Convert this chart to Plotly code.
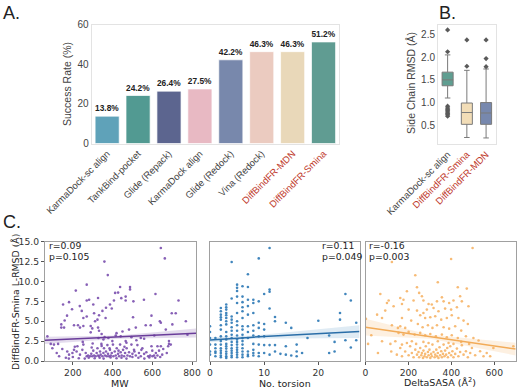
import plotly.graph_objects as go

W, H = 517, 391

# ---------------- Panel A data ----------------
methods = ["KarmaDock-sc align", "TankBind-pocket", "Glide (Repack)", "KarmaDock align",
           "Glide (Redock)", "Vina (Redock)", "DiffBindFR-MDN", "DiffBindFR-Smina"]
success = [13.8, 24.2, 26.4, 27.5, 42.2, 46.3, 46.3, 51.2]
bar_colors = ["#5fa2b9", "#529a92", "#5c658f", "#e8b9c3", "#7888ac", "#ebcbc0", "#e9d8b9", "#609c92"]
highlight = ["DiffBindFR-MDN", "DiffBindFR-Smina"]

# ---------------- Panel B data ----------------
box_names = ["KarmaDock-sc align", "DiffBindFR-Smina", "DiffBindFR-MDN"]
box_q1 = [1.37, 0.52, 0.52]
box_med = [1.50, 0.78, 0.77]
box_q3 = [1.67, 0.99, 1.00]
box_lo = [1.10, 0.23, 0.22]
box_hi = [2.05, 1.71, 1.74]
box_colors = ["#5f9e91", "#f2ddb7", "#7788ae"]
out_group = ["KarmaDock-sc align"] * 10 + ["DiffBindFR-Smina"] * 2 + ["DiffBindFR-MDN"] * 3
out_vals = [2.60, 2.12, 0.92, 0.88, 0.85, 0.82, 0.79, 0.76, 0.73, 0.70,
            1.80, 2.38,
            1.79, 1.97, 2.38]

# ---------------- Panel C data ----------------
mw = [643, 663, 359, 376, 270, 215, 488, 488, 438, 413, 428, 616, 327, 270, 282, 303, 407, 444, 466, 466,
      505, 558, 732, 151, 181, 196, 235, 245, 349, 367, 387, 396, 307, 253, 270, 171, 159, 332, 365, 312,
      324, 503, 596, 638, 698, 718, 769,
      142, 156, 142, 206, 226, 236, 253, 290, 298, 327, 332, 450, 483, 517, 567, 592, 643, 668, 701, 777,
      72, 416, 441, 495, 542, 559, 329, 354, 379, 399, 684, 466,
      89, 105, 126, 119, 147, 172, 181, 198, 206, 219, 223, 236, 248, 253, 265, 270, 277, 287, 293, 298,
      303, 307, 315, 320, 324, 327, 332, 337, 340, 344, 349, 354, 357, 362, 367, 371, 374, 377, 382, 387,
      391, 396, 402, 404, 411, 416, 421, 428, 433, 438, 441, 446, 453, 458, 463, 471, 475, 483, 488, 495,
      500, 508, 517, 525, 533, 542, 550, 559, 579, 589, 596, 601, 609, 618, 626, 634, 643, 626, 673, 680,
      684, 693, 97, 131,
      290, 345, 360, 420, 300, 250, 210, 470, 520, 610, 280, 310, 335, 355, 390, 420, 445, 470, 500, 530,
      560, 585, 615, 640, 260, 230, 200, 180, 165, 295, 345, 385, 430, 460, 510, 545, 570, 600, 650, 655]
mw_rmsd = [14.2, 12.9, 12.5, 10.8, 9.6, 8.85, 9.3, 9.0, 9.3, 8.56, 8.6, 8.43, 7.93, 7.6, 7.7, 7.1, 7.6, 7.9, 7.6, 8.1,
           7.5, 7.7, 7.6, 7.1, 7.4, 6.5, 6.9, 6.3, 6.3, 6.7, 7.1, 6.6, 6.0, 5.4, 5.6, 5.7, 5.1, 5.75, 5.4, 5.0,
           5.2, 5.5, 5.7, 5.0, 6.0, 6.0, 5.0,
           4.2, 4.2, 4.6, 4.5, 4.5, 4.2, 4.4, 4.4, 4.1, 4.2, 3.8, 3.7, 3.95, 4.2, 4.5, 4.5, 4.8, 3.95, 4.6, 3.3,
           3.1, 3.2, 3.1, 3.0, 2.9, 2.8, 2.9, 2.7, 2.9, 2.5, 2.5, 2.5,
           2.15, 2.06, 2.15, 1.0, 1.5, 1.2, 0.8, 1.0, 1.4, 1.2, 1.85, 0.8, 1.4, 2.06, 1.0, 0.6, 0.7, 0.6, 0.9, 0.6,
           1.3, 0.7, 0.6, 1.0, 1.6, 0.7, 0.6, 1.2, 0.8, 2.15, 0.6, 1.0, 1.6, 0.7, 1.2, 0.6, 2.0, 0.9, 0.6, 1.4,
           0.7, 1.0, 2.06, 0.6, 1.2, 0.7, 1.6, 0.9, 0.6, 2.06, 1.1, 0.7, 1.4, 0.6, 1.0, 1.6, 0.7, 1.1, 0.6, 2.06,
           0.9, 1.4, 0.7, 2.0, 1.0, 0.6, 1.6, 0.9, 0.6, 0.7, 1.85, 0.6, 0.7, 1.0, 0.7, 1.3, 1.85, 1.85, 1.0, 1.85,
           2.15, 2.06, 1.6, 0.6,
           3.6, 3.4, 3.0, 3.5, 2.2, 2.4, 1.8, 2.3, 2.6, 3.2, 0.4, 0.35, 0.4, 0.3, 0.45, 0.35, 0.4, 0.3, 0.5, 0.4,
           0.3, 0.45, 0.4, 0.5, 0.3, 0.35, 0.5, 0.3, 0.4, 1.7, 1.9, 1.6, 1.3, 1.8, 1.2, 1.4, 1.1, 1.3, 0.8, 1.5]

tors = [0, 0, 0, 0, 0, 0,
        1, 1, 1, 1, 1, 1,
        2, 2, 2, 2, 2, 2, 2, 2, 2, 2, 2, 2, 2, 2, 2,
        3, 3, 3, 3, 3, 3, 3, 3, 3, 3, 3, 3, 3, 3, 3, 3, 3, 3,
        4, 4, 4, 4, 4, 4, 4, 4, 4, 4, 4, 4, 4, 4, 4, 4,
        5, 5, 5, 5, 5, 5, 5, 5, 5, 5, 5, 5, 5, 5, 5, 5, 5, 5,
        6, 6, 6, 6, 6, 6, 6, 6, 6, 6, 6, 6, 6, 6, 6, 6,
        7, 7, 7, 7, 7, 7, 7, 7, 7, 7, 7,
        8, 8, 8, 8, 8, 8, 8, 8, 8, 8,
        9, 9, 9, 9, 9, 9, 9, 9,
        10, 10, 10, 10, 10, 10,
        11, 11, 11, 11, 11, 11,
        12, 12, 12, 12,
        13, 14, 14, 14, 15, 15, 16, 16, 16, 17, 18, 20, 22, 22, 23, 23, 24, 24, 25, 25, 26, 26, 27, 27]
tors_rmsd = [4.37, 3.65, 2.9, 2.06, 1.2, 0.8,
             2.9, 2.06, 1.6, 1.2, 1.0, 0.6,
             6.67, 6.25, 5.83, 5.5, 5.2, 4.5, 3.95, 3.1, 2.5, 2.06, 1.6, 1.3, 1.0, 0.7, 0.47,
             7.1, 6.76, 6.46, 6.04, 5.75, 5.4, 5.0, 4.6, 3.65, 3.1, 2.7, 2.15, 1.85, 1.56, 1.2, 0.9, 0.6, 0.39,
             12.45, 7.85, 5.6, 5.2, 4.8, 4.24, 3.8, 3.3, 2.9, 2.4, 2.0, 1.6, 1.3, 1.0, 0.7, 0.47,
             9.6, 9.2, 8.8, 8.1, 7.3, 6.04, 5.0, 4.5, 3.8, 3.2, 2.7, 2.4, 2.06, 1.7, 1.4, 1.1, 0.8, 0.47,
             9.4, 8.1, 7.4, 6.76, 6.25, 5.4, 4.37, 3.95, 3.3, 2.9, 2.5, 2.06, 1.6, 1.2, 0.8, 0.47,
             10.9, 9.3, 7.7, 6.9, 5.83, 4.37, 3.65, 2.9, 1.2, 0.8, 0.6,
             7.7, 7.3, 6.04, 4.5, 3.8, 3.2, 2.15, 1.4, 1.0, 0.7,
             12.9, 7.5, 4.8, 4.16, 3.1, 2.06, 1.0, 0.6,
             8.43, 4.66, 3.95, 3.1, 2.0, 1.0,
             14.2, 8.98, 8.7, 6.6, 2.0, 0.8,
             5.54, 5.0, 2.0, 1.2,
             0.9, 4.8, 1.85, 0.8, 4.16, 0.7, 2.06, 1.2, 0.6, 1.0, 2.9, 5.07, 3.2, 1.0, 2.4, 1.2, 6.04, 5.2, 8.43, 2.6,
             7.6, 1.7, 4.8, 2.6]

sasa = [499, 399, 123, 232, 337, 430, 472, 240, 356, 364, 193, 69, 108, 162, 177, 224, 270, 100, 131, 250,
        263, 294, 309, 333, 390, 410, 441, 449, 480, 92, 170, 201, 240, 270, 286, 317, 340, 371, 399, 426,
        54, 77, 170, 213, 255, 278, 302, 325, 353, 379, 402, 433, 457, 477, 2, 27, 12,
        123, 151, 162, 185, 244, 266, 291, 312, 333, 364, 390, 418, 446, 154, 177, 201, 229, 255, 278, 302,
        328, 356, 379, 402, 430, 468, 503, 527, 596, 689, 77, 116, 139,
        58, 120, 146, 162, 170, 185, 201, 208, 216, 224, 232, 240, 247, 250, 255, 260, 263, 268, 270, 275,
        278, 281, 286, 291, 294, 298, 302, 306, 309, 312, 317, 322, 325, 330, 333, 337, 340, 345, 348, 353,
        356, 361, 364, 368, 371, 376, 381, 384, 390, 395, 399, 405, 410, 418, 426, 433, 441, 449, 457, 468,
        477, 488, 496, 511, 534, 550, 565, 581,
        170, 193, 216, 236, 270, 294, 337, 387, 410, 446, 483]
sasa_rmsd = [14.2, 12.83, 12.45, 10.78, 9.9, 9.27, 9.1, 9.27, 8.0, 7.5, 8.77, 8.43, 7.6, 7.93, 7.7, 7.6, 7.6, 7.3, 6.88, 8.56,
             8.14, 7.17, 7.1, 7.5, 7.3, 7.6, 8.14, 7.5, 6.88, 6.34, 7.17, 6.46, 6.34, 6.04, 6.46, 6.67, 6.25, 6.59, 6.46, 6.76,
             5.83, 5.4, 5.4, 5.08, 5.75, 5.4, 5.5, 5.63, 5.2, 5.4, 5.75, 5.4, 5.08, 4.66, 5.3, 3.24, 2.15,
             4.5, 4.16, 4.37, 4.16, 4.66, 4.24, 4.5, 4.16, 4.5, 4.24, 4.07, 4.37, 3.82, 3.53, 3.32, 3.66, 3.32, 3.53, 3.24, 3.4,
             3.11, 3.32, 2.98, 3.24, 2.9, 3.11, 2.9, 2.57, 1.64, 1.85, 2.48, 2.15, 2.48,
             1.0, 1.2, 0.8, 1.64, 0.6, 1.2, 0.72, 1.85, 1.0, 0.47, 1.43, 0.8, 1.14, 0.47, 1.64, 0.72, 1.0, 0.39, 1.31, 0.6,
             0.89, 1.85, 0.47, 1.14, 0.72, 1.43, 0.39, 0.89, 0.6, 2.06, 1.14, 0.47, 0.8, 1.43, 0.6, 1.0, 0.39, 1.73, 0.72, 1.22,
             0.47, 0.89, 2.06, 0.6, 1.31, 0.8, 1.64, 0.47, 1.0, 1.85, 0.72, 1.22, 0.47, 0.89, 1.56, 0.6, 1.14, 1.98, 0.8, 1.22,
             0.47, 1.0, 1.64, 0.72, 1.22, 0.6, 1.0, 0.6,
             2.06, 2.27, 2.48, 2.15, 2.4, 2.27, 2.48, 2.27, 2.15, 2.4, 2.15]

# regression lines and 95% CI (x, fit, lower, upper)
mw_fit_x, mw_fit_y, mw_fit_lo, mw_fit_hi = [60, 430, 820], [2.6, 3.0, 3.5], [2.15, 2.8, 2.95], [3.05, 3.2, 4.1]
tors_fit_x, tors_fit_y, tors_fit_lo, tors_fit_hi = [0, 8, 27.6], [2.65, 3.0, 3.7], [2.35, 2.8, 2.9], [2.95, 3.2, 4.5]
sasa_fit_x, sasa_fit_y, sasa_fit_lo, sasa_fit_hi = [0, 300, 700], [4.24, 3.05, 1.5], [3.2, 2.8, 0.7], [5.3, 3.3, 2.3]
stats_text = [("r=0.09", "p=0.105"), ("r=0.11", "p=0.049"), ("r=-0.16", "p=0.003")]

# ---------------- figure ----------------
fig = go.Figure()

# Panel A bars
fig.add_trace(go.Bar(x=methods, y=success, marker=dict(color=bar_colors, line=dict(color="rgba(255,255,255,0.7)", width=1)),
                     texttemplate="<b>%{y:.1f}%</b>", textposition="outside",
                     textfont=dict(size=9.5, color="#222", family="Liberation Sans"),
                     xaxis="x", yaxis="y", showlegend=False, cliponaxis=False))

# Panel B boxes
for i, n in enumerate(box_names):
    fig.add_trace(go.Box(x=[n], q1=[box_q1[i]], median=[box_med[i]], q3=[box_q3[i]],
                         lowerfence=[box_lo[i]], upperfence=[box_hi[i]], fillcolor=box_colors[i],
                         line=dict(color="#7a7a7a", width=1), whiskerwidth=0.5, boxpoints=False,
                         xaxis="x2", yaxis="y2", showlegend=False))
fig.add_trace(go.Scatter(x=out_group, y=out_vals, mode="markers",
                         marker=dict(symbol="diamond", size=4, color="#5a5a5a"),
                         xaxis="x2", yaxis="y2", showlegend=False))

# Panel C scatters
specs = [
    (mw, mw_rmsd, mw_fit_x, mw_fit_y, mw_fit_lo, mw_fit_hi, "#7a4fae", "#6a3d9a", "rgba(106,61,154,0.18)", "x3", "y3"),
    (tors, tors_rmsd, tors_fit_x, tors_fit_y, tors_fit_lo, tors_fit_hi, "#2b78b5", "#2a6ea8", "rgba(42,120,181,0.15)", "x4", "y4"),
    (sasa, sasa_rmsd, sasa_fit_x, sasa_fit_y, sasa_fit_lo, sasa_fit_hi, "#f6b467", "#f2ab58", "rgba(245,170,90,0.18)", "x5", "y5"),
]
for xs, ys, fx, fy, flo, fhi, pc, lc, bc, xa, ya in specs:
    fig.add_trace(go.Scatter(x=xs, y=ys, mode="markers", marker=dict(size=2.6, color=pc, opacity=0.9),
                             xaxis=xa, yaxis=ya, showlegend=False))
    fig.add_trace(go.Scatter(x=fx, y=flo, mode="lines", line=dict(width=0), xaxis=xa, yaxis=ya,
                             showlegend=False, hoverinfo="skip"))
    fig.add_trace(go.Scatter(x=fx, y=fhi, mode="lines", line=dict(width=0), fill="tonexty", fillcolor=bc,
                             xaxis=xa, yaxis=ya, showlegend=False, hoverinfo="skip"))
    fig.add_trace(go.Scatter(x=fx, y=fy, mode="lines", line=dict(width=1.5, color=lc),
                             xaxis=xa, yaxis=ya, showlegend=False))


def px(x):
    return x / W


def py(y):
    return 1 - y / H


red = "#c0392b"
ticktext_a = [f"<span style='color:{red}'>{m}</span>" if m in highlight else m for m in methods]
ticktext_b = [f"<span style='color:{red}'>{m}</span>" if m in highlight else m for m in box_names]

frameA = dict(showline=True, mirror=True, linecolor="#e3e3e3", linewidth=1, showgrid=False, zeroline=False,
              automargin=False, tickfont=dict(size=10, color="#444", family="Liberation Sans"))
frameC = dict(showline=True, mirror=True, linecolor="#a0a0a0", linewidth=1.3, showgrid=False, zeroline=False,
              automargin=False, ticks="outside", ticklen=3, tickcolor="#555",
              tickfont=dict(size=9.2, color="#333", family="DejaVu Sans"))
xtickA = dict(size=9.5, color="#444", family="Liberation Sans")

cy = [py(361), py(241.7)]
fig.update_layout(
    template="none",
    width=W, height=H, margin=dict(l=0, r=0, t=0, b=0, pad=0), autosize=False,
    paper_bgcolor="white", plot_bgcolor="white",
    font=dict(family="Liberation Sans", color="#333"),
    bargap=0.22, boxgap=0.18,
    xaxis=dict(domain=[px(91.7), px(339)], anchor="y", type="category", tickvals=methods, ticktext=ticktext_a,
               tickangle=-45, **{**frameA, "tickfont": xtickA}),
    yaxis=dict(domain=[py(143.5), py(24.5)], anchor="x", range=[0, 60], tickvals=[0, 20, 40, 60], **frameA),
    xaxis2=dict(domain=[px(438), px(495.7)], anchor="y2", type="category", tickvals=box_names, ticktext=ticktext_b,
                tickangle=-45, **{**frameA, "tickfont": xtickA}),
    yaxis2=dict(domain=[py(144.3), py(24.5)], anchor="x2", range=[0.08, 2.72], tickvals=[0.5, 1.0, 1.5, 2.0, 2.5],
                tickformat=".1f", **frameA),
    xaxis3=dict(domain=[px(45), px(196)], anchor="y3", range=[60, 820], tickvals=[200, 400, 600, 800], **frameC),
    yaxis3=dict(domain=cy, anchor="x3", range=[0, 15], tickvals=[0, 2.5, 5, 7.5, 10, 12.5, 15], tickformat=".1f", **frameC),
    xaxis4=dict(domain=[px(210), px(359.5)], anchor="y4", range=[0, 27.6], tickvals=[0, 10, 20], **frameC),
    yaxis4=dict(domain=cy, anchor="x4", range=[0, 15], showticklabels=False, **{**frameC, "ticks": ""}),
    xaxis5=dict(domain=[px(365.5), px(515.7)], anchor="y5", range=[0, 700], tickvals=[0, 200, 400, 600], **frameC),
    yaxis5=dict(domain=cy, anchor="x5", range=[0, 15], showticklabels=False, **{**frameC, "ticks": ""}),
)

ann = []


def add(text, x, y, size, xanchor="center", yanchor="middle", angle=0, family="Liberation Sans", color="#333"):
    ann.append(dict(text=text, x=px(x), y=py(y), xref="paper", yref="paper", showarrow=False,
                    xanchor=xanchor, yanchor=yanchor, textangle=angle,
                    font=dict(size=size, family=family, color=color)))


add("A.", 1, 13, 18, xanchor="left", color="#222")
add("B.", 437, 13, 18, xanchor="left", color="#222")
add("C.", 1, 222, 18, xanchor="left", color="#222")
add("Success Rate (%)", 67, 84, 10.5, angle=-90, color="#444")
add("Side Chain RMSD (Å)", 411, 83, 10.5, angle=-90, color="#444")
add("DiffBindFR-Smina L-RMSD (Å)", 15, 302, 9.3, angle=-90, family="DejaVu Sans", color="#222")
add("MW", 120, 383, 9.5, family="DejaVu Sans", color="#222")
add("No. torsion", 285, 383, 9.5, family="DejaVu Sans", color="#222")
add("DeltaSASA (Å<sup>2</sup>)", 440, 382, 9.5, family="DejaVu Sans", color="#222")
stat_pos = [47, 320, 367]
for (r, p), x0 in zip(stats_text, stat_pos):
    add(r, x0, 245, 9.3, xanchor="left", family="DejaVu Sans", color="#222")
    add(p, x0, 256, 9.3, xanchor="left", family="DejaVu Sans", color="#222")
fig.update_layout(annotations=ann)

fig.write_html("out.html", config={"displayModeBar": False},
               post_script="document.body.style.margin='0';document.body.style.padding='0';")
